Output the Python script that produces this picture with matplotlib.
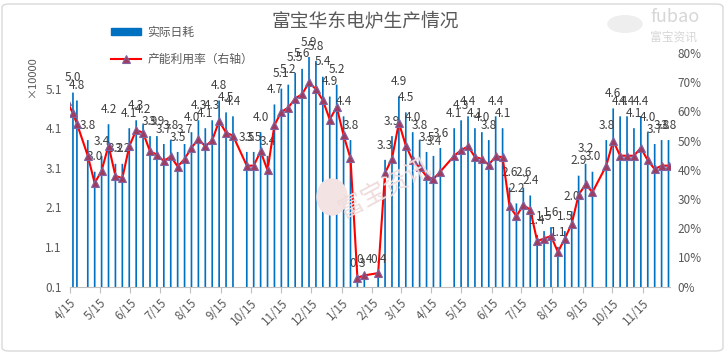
import matplotlib
matplotlib.use("Agg")
import matplotlib.pyplot as plt
import matplotlib.dates as mdates
import matplotlib.patches as mpatches
from matplotlib.lines import Line2D
import numpy as np
import pandas as pd

plt.rcParams['font.family'] = ['Noto Sans CJK SC', 'DejaVu Sans']

title = "富宝华东电炉生产情况"
bar_name = "实际日耗"
line_name = "产能利用率（右轴）"

dates = ["2019-04-12", "2019-04-18", "2019-04-22", "2019-05-03", "2019-05-10", "2019-05-17",
         "2019-05-24", "2019-05-31", "2019-06-07", "2019-06-14", "2019-06-21", "2019-06-28",
         "2019-07-05", "2019-07-12", "2019-07-19", "2019-07-26", "2019-08-02", "2019-08-09",
         "2019-08-16", "2019-08-23", "2019-08-30", "2019-09-06", "2019-09-13", "2019-09-20",
         "2019-09-27", "2019-10-11", "2019-10-18", "2019-10-25", "2019-11-01", "2019-11-08",
         "2019-11-15", "2019-11-22", "2019-11-29", "2019-12-06", "2019-12-13", "2019-12-20",
         "2019-12-27", "2020-01-03", "2020-01-10", "2020-01-17", "2020-01-24", "2020-01-31",
         "2020-02-07", "2020-02-21", "2020-02-28", "2020-03-06", "2020-03-13", "2020-03-20",
         "2020-03-27", "2020-04-03", "2020-04-10", "2020-04-17", "2020-04-24", "2020-05-08",
         "2020-05-15", "2020-05-22", "2020-05-29", "2020-06-05", "2020-06-12", "2020-06-19",
         "2020-06-26", "2020-07-03", "2020-07-10", "2020-07-17", "2020-07-24", "2020-07-31",
         "2020-08-07", "2020-08-14", "2020-08-21", "2020-08-28", "2020-09-04", "2020-09-11",
         "2020-09-18", "2020-09-25", "2020-10-09", "2020-10-16", "2020-10-23", "2020-10-30",
         "2020-11-06", "2020-11-13", "2020-11-20", "2020-11-27", "2020-12-04", "2020-12-11"]

# daily consumption (x10000); first point lies before the axis start (hidden)
consumption = [np.nan, 5.0, 4.8, 3.8, 3.0, 3.4, 4.2, 3.2, 3.2, 4.1, 4.3, 4.2,
               3.9, 3.9, 3.7, 3.8, 3.5, 3.7, 4.0, 4.3, 4.1, 4.3, 4.8, 4.5,
               4.4, 3.5, 3.5, 4.0, 3.4, 4.7, 5.1, 5.2, 5.5, 5.6, 5.9, 5.8,
               5.4, 4.9, 5.2, 4.4, 3.8, 0.3, 0.4, 0.4, 3.3, 3.9, 4.9, 4.5,
               4.0, 3.8, 3.5, 3.4, 3.6, 4.1, 4.3, 4.4, 4.1, 4.0, 3.8, 4.4,
               4.1, 2.6, 2.2, 2.6, 2.4, 1.4, 1.5, 1.6, 1.1, 1.5, 2.0, 2.9,
               3.2, 3.0, 3.8, 4.6, 4.4, 4.4, 4.1, 4.4, 4.0, 3.7, 3.8, 3.8]

# capacity utilisation (%)
utilisation = [63.5, 59.3, 55.8, 44.8, 35.4, 39.7, 48.3, 37.9, 37.1, 48.0, 53.6, 52.7,
               46.3, 45.2, 42.9, 44.6, 41.1, 43.7, 47.5, 50.6, 48.0, 50.1, 56.7, 52.7,
               51.7, 41.4, 41.4, 46.3, 39.8, 55.3, 59.8, 61.3, 64.4, 65.9, 69.9, 67.6,
               63.8, 57.2, 61.5, 51.8, 43.9, 3.0, 3.8, 4.6, 38.9, 43.8, 56.1, 48.3,
               43.2, 40.8, 37.7, 36.8, 39.4, 44.8, 46.7, 48.0, 44.4, 43.7, 41.7, 44.6,
               44.3, 27.5, 24.1, 27.9, 26.3, 15.6, 16.4, 17.3, 11.8, 16.4, 21.5, 31.4,
               35.0, 32.3, 41.4, 49.9, 44.8, 44.8, 44.8, 47.5, 43.2, 40.2, 41.4, 41.4]

tick_dates = ["2019-04-15", "2019-05-15", "2019-06-15", "2019-07-15", "2019-08-15",
              "2019-09-15", "2019-10-15", "2019-11-15", "2019-12-15", "2020-01-15",
              "2020-02-15", "2020-03-15", "2020-04-15", "2020-05-15", "2020-06-15",
              "2020-07-15", "2020-08-15", "2020-09-15", "2020-10-15", "2020-11-15"]
tick_labels = ["4/15", "5/15", "6/15", "7/15", "8/15", "9/15", "10/15", "11/15", "12/15",
               "1/15", "2/15", "3/15", "4/15", "5/15", "6/15", "7/15", "8/15", "9/15",
               "10/15", "11/15"]
left_ticks = [0.1, 1.1, 2.1, 3.1, 4.1, 5.1]
right_ticks = [0, 10, 20, 30, 40, 50, 60, 70, 80]

x = mdates.date2num(pd.to_datetime(dates))
xt = mdates.date2num(pd.to_datetime(tick_dates))
cons = np.array(consumption, dtype=float)
util = np.array(utilisation, dtype=float)

W, H = 726, 355
fig = plt.figure(figsize=(W / 100, H / 100), dpi=100)
fig.patch.set_facecolor('white')
# chart border
fig.add_artist(mpatches.FancyBboxPatch((2 / W, 4 / H), (W - 5) / W, (H - 8) / H,
                                       boxstyle="round,pad=0,rounding_size=0.01",
                                       transform=fig.transFigure, fill=False,
                                       edgecolor='#D9D9D9', linewidth=1.0))

ax = fig.add_axes([70 / W, 1 - 286.5 / H, (669.5 - 70) / W, (286.5 - 53) / H])
ax.set_facecolor('none')
gray = '#595959'

bars = ax.bar(x, cons, width=1.7, bottom=0, color='#0070C0', linewidth=0, zorder=2)
for b in bars:
    b.set_snap(False)
ax.set_ylim(0.1, 6.0)
ax.set_xlim(mdates.date2num(pd.Timestamp("2019-04-15")), mdates.date2num(pd.Timestamp("2020-12-12")))
ax.set_yticks(left_ticks)
ax.set_yticklabels([f"{v:.1f}" for v in left_ticks])
ax.tick_params(axis='y', length=0, labelsize=8.5, labelcolor=gray, pad=6)
ax.set_xticks(xt)
ax.set_xticklabels(tick_labels, rotation=45, ha='right', va='top', rotation_mode='anchor')
ax.tick_params(axis='x', length=4, color='#BFBFBF', labelsize=8.5, labelcolor=gray, pad=3)
for s in ['top', 'left', 'right']:
    ax.spines[s].set_visible(False)
ax.spines['bottom'].set_color('#BFBFBF')

for xi, v in zip(x, cons):
    if np.isnan(v):
        continue
    ax.annotate(f"{v:.1f}", (xi, v), xytext=(0, 6), textcoords='offset points',
                ha='center', va='bottom', fontsize=8.5, color='#404040', zorder=5)

ax2 = ax.twinx()
ax2.plot(x, util / 100, color='#FF0000', linewidth=1.5, marker='^', markersize=6,
         markerfacecolor='#9E3B5E', markeredgecolor='#8064A2', markeredgewidth=0.8, zorder=4,
         clip_on=True)
ax2.set_ylim(0, 0.8)
ax2.set_yticks([t / 100 for t in right_ticks])
ax2.set_yticklabels([f"{t}%" for t in right_ticks])
ax2.tick_params(axis='y', length=0, labelsize=8.5, labelcolor=gray, pad=6)
for s in ['top', 'left', 'right', 'bottom']:
    ax2.spines[s].set_visible(False)

fig.text(32 / W, 1 - 77 / H, "×10000", rotation=90, ha='center', va='center',
         fontsize=8, color=gray)
fig.text(365 / W, 1 - 22 / H, title, ha='center', va='center', fontsize=13.5, color=gray)

handles = [mpatches.Patch(color='#0070C0'),
           Line2D([0], [0], color='#FF0000', linewidth=1.5, marker='^', markersize=6,
                  markerfacecolor='#9E3B5E', markeredgecolor='#8064A2', markeredgewidth=0.8)]
fig.legend(handles, [bar_name, line_name], loc='upper left',
           bbox_to_anchor=(100 / W, 1 - 15 / H), frameon=False, fontsize=8.5,
           labelcolor=gray, handlelength=2.6, handleheight=0.6, labelspacing=1.2,
           handletextpad=0.5)

# watermarks
fig.add_artist(mpatches.Circle((625 / W, 1 - 24 / H), 17 / W, transform=fig.transFigure,
                               color='#EEEEEE', zorder=0))
fig.text(650 / W, 1 - 17 / H, "fubao", fontsize=13, color='#D6D6D6', ha='left', va='center')
fig.text(650 / W, 1 - 37 / H, "富宝资讯", fontsize=8.5, color='#D6D6D6', ha='left', va='center')
fig.add_artist(mpatches.Ellipse((332 / W, 1 - 197 / H), 30 / W, 36 / H, transform=fig.transFigure,
                                color='#F3E3E3', zorder=1))
fig.text(385 / W, 1 - 188 / H, "富宝资讯", rotation=28, fontsize=18, color='#EFDCDC',
         ha='center', va='center', zorder=1)

fig.savefig("out.png", dpi=100)
